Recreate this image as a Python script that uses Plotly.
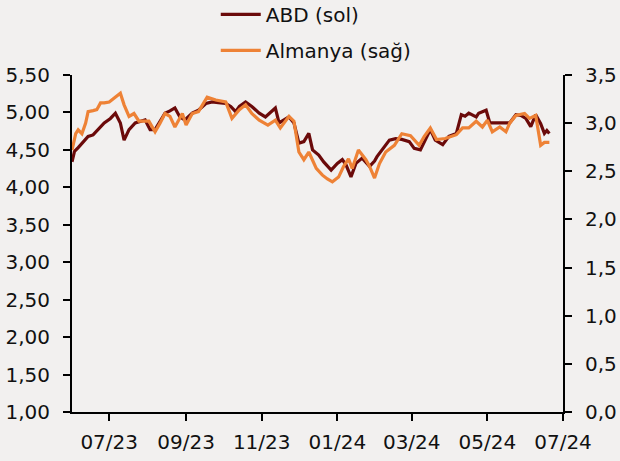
import plotly.graph_objects as go

# ---- data ----
abd_dates = [
    "2023-06-01", "2023-06-03", "2023-06-06", "2023-06-10", "2023-06-14", "2023-06-18", "2023-06-22", "2023-06-27",
    "2023-07-02", "2023-07-06", "2023-07-10", "2023-07-13", "2023-07-17", "2023-07-22", "2023-07-30",
    "2023-08-03", "2023-08-07", "2023-08-11", "2023-08-15", "2023-08-19", "2023-08-23", "2023-08-27", "2023-08-31",
    "2023-09-06", "2023-09-11", "2023-09-17", "2023-09-22", "2023-09-27",
    "2023-10-03", "2023-10-07", "2023-10-11", "2023-10-14", "2023-10-19", "2023-10-24", "2023-10-30",
    "2023-11-04", "2023-11-08", "2023-11-12", "2023-11-15", "2023-11-19", "2023-11-23", "2023-11-27",
    "2023-12-01", "2023-12-05", "2023-12-09", "2023-12-12", "2023-12-17", "2023-12-21", "2023-12-27",
    "2024-01-01", "2024-01-05", "2024-01-08", "2024-01-12", "2024-01-16", "2024-01-21", "2024-01-27", "2024-01-31",
    "2024-02-02", "2024-02-05", "2024-02-08", "2024-02-12", "2024-02-17", "2024-02-22", "2024-02-28",
    "2024-03-03", "2024-03-08", "2024-03-12", "2024-03-16", "2024-03-20", "2024-03-26", "2024-03-31",
    "2024-04-06", "2024-04-10", "2024-04-13", "2024-04-16", "2024-04-22", "2024-04-24", "2024-04-30",
    "2024-05-03", "2024-05-08", "2024-05-13", "2024-05-19", "2024-05-24", "2024-05-28",
    "2024-06-01", "2024-06-05", "2024-06-09", "2024-06-13", "2024-06-16", "2024-06-18", "2024-06-20",
]
abd_values = [
    4.34, 4.48, 4.53, 4.60, 4.68, 4.70, 4.77, 4.86,
    4.92, 4.99, 4.86, 4.63, 4.77, 4.86, 4.90,
    4.77, 4.77, 4.88, 4.99, 5.02, 5.06, 4.94, 4.90,
    4.99, 5.03, 5.12, 5.14, 5.13,
    5.12, 5.08, 5.01, 5.08, 5.14, 5.08, 4.99,
    4.94, 5.00, 5.06, 4.86, 4.90, 4.94, 4.86,
    4.59, 4.61, 4.72, 4.50, 4.43, 4.34, 4.23,
    4.32, 4.37, 4.30, 4.14, 4.32, 4.39, 4.28, 4.35,
    4.41, 4.48, 4.55, 4.63, 4.65, 4.64, 4.61,
    4.52, 4.50, 4.63, 4.77, 4.63, 4.57, 4.68,
    4.72, 4.97, 4.95, 4.99, 4.94, 4.99, 5.03,
    4.86, 4.86, 4.86, 4.86, 4.97, 4.96,
    4.92, 4.81, 4.97, 4.85, 4.72, 4.76, 4.72,
]

de_dates = [
    "2023-06-01", "2023-06-04", "2023-06-06", "2023-06-09", "2023-06-12", "2023-06-14", "2023-06-18", "2023-06-21", "2023-06-24", "2023-06-27",
    "2023-07-01", "2023-07-06", "2023-07-10", "2023-07-13", "2023-07-17", "2023-07-21", "2023-07-25",
    "2023-08-02", "2023-08-07", "2023-08-11", "2023-08-15", "2023-08-19", "2023-08-23", "2023-08-29",
    "2023-09-01", "2023-09-06", "2023-09-11", "2023-09-18", "2023-09-25",
    "2023-10-03", "2023-10-08", "2023-10-14", "2023-10-19", "2023-10-24", "2023-10-30",
    "2023-11-06", "2023-11-12", "2023-11-16", "2023-11-23", "2023-11-27",
    "2023-12-01", "2023-12-05", "2023-12-09", "2023-12-15", "2023-12-20", "2023-12-24", "2023-12-28",
    "2024-01-02", "2024-01-06", "2024-01-10", "2024-01-13", "2024-01-18", "2024-01-24", "2024-01-27", "2024-01-31",
    "2024-02-04", "2024-02-09", "2024-02-16", "2024-02-22", "2024-02-29",
    "2024-03-07", "2024-03-11", "2024-03-16", "2024-03-21", "2024-03-28",
    "2024-04-06", "2024-04-11", "2024-04-16", "2024-04-22", "2024-04-27",
    "2024-05-01", "2024-05-05", "2024-05-11", "2024-05-16", "2024-05-19", "2024-05-24", "2024-05-31",
    "2024-06-04", "2024-06-09", "2024-06-13", "2024-06-16", "2024-06-20",
]
de_values = [
    2.72, 2.89, 2.93, 2.89, 3.00, 3.12, 3.13, 3.14, 3.21, 3.21,
    3.22, 3.27, 3.31, 3.19, 3.07, 3.10, 3.02,
    3.02, 2.91, 3.00, 3.10, 3.07, 2.96, 3.10,
    2.98, 3.10, 3.12, 3.27, 3.24,
    3.22, 3.05, 3.14, 3.19, 3.10, 3.03,
    2.98, 3.03, 2.95, 3.07, 3.02,
    2.70, 2.62, 2.70, 2.53, 2.46, 2.42, 2.39,
    2.44, 2.55, 2.63, 2.53, 2.72, 2.62, 2.55, 2.43,
    2.58, 2.70, 2.77, 2.89, 2.87,
    2.77, 2.86, 2.95, 2.83, 2.84,
    2.88, 2.95, 2.95, 3.02, 2.96,
    3.03, 2.91, 2.96, 2.91, 3.00, 3.08, 3.10,
    3.05, 3.08, 2.77, 2.80, 2.80,
]

x_tick_dates = ["2023-07-01", "2023-09-01", "2023-11-01", "2024-01-01", "2024-03-01", "2024-05-01", "2024-07-01"]
x_tick_labels = ["07/23", "09/23", "11/23", "01/24", "03/24", "05/24", "07/24"]
x_range = ["2023-06-01", "2024-07-01"]

name_abd = "ABD (sol)"
name_de = "Almanya (sağ)"

# ---- styling ----
BG = "#F2F0EF"
C_ABD = "#6B0A0A"
C_DE = "#EE8236"
FONT = "DejaVu Sans"

fig = go.Figure()
fig.add_trace(go.Scatter(x=abd_dates, y=abd_values, name=name_abd, mode="lines",
                         line=dict(color=C_ABD, width=3.2), legendgroup="a", yaxis="y"))
fig.add_trace(go.Scatter(x=de_dates, y=de_values, name=name_de, mode="lines",
                         line=dict(color=C_DE, width=3.2), legendgroup="b", yaxis="y2"))

axis_common = dict(showline=True, linecolor="black", linewidth=2, ticks="outside",
                   tickcolor="black", tickwidth=2, ticklen=7, showgrid=False, zeroline=False,
                   automargin=False,
                   tickfont=dict(family=FONT, size=20, color="#111111"))

fig.update_layout(
    width=620, height=461,
    margin=dict(l=72, r=57, t=75, b=49, autoexpand=False),
    paper_bgcolor=BG, plot_bgcolor=BG,
    separators=",.",
    font=dict(family=FONT, size=20, color="#111111"),
    showlegend=True,
    legend=dict(xref="container", yref="paper", x=0.348, y=1.238, xanchor="left", yanchor="top",
                orientation="v", tracegroupgap=7, itemwidth=40, bgcolor="rgba(0,0,0,0)",
                font=dict(family=FONT, size=20, color="#111111")),
    xaxis=dict(type="date", range=x_range, tickvals=x_tick_dates, ticktext=x_tick_labels,
               tickangle=0, ticklabelstandoff=4, **axis_common),
    yaxis=dict(range=[1.0, 5.5], tick0=1.0, dtick=0.5, tickformat=".2f",
               ticklabelstandoff=9, **axis_common),
    yaxis2=dict(range=[0.0, 3.5], tick0=0.0, dtick=0.5, tickformat=".1f", overlaying="y",
                side="right", ticklabelstandoff=9, **axis_common),
)

fig.write_html("out.html", config={"displayModeBar": False})

# remove the default page margin so the figure fills the window exactly
with open("out.html", encoding="utf-8") as f:
    html = f.read()
html = html.replace("<head>", "<head><style>html,body{margin:0;padding:0;overflow:hidden;}</style>", 1)
with open("out.html", "w", encoding="utf-8") as f:
    f.write(html)
